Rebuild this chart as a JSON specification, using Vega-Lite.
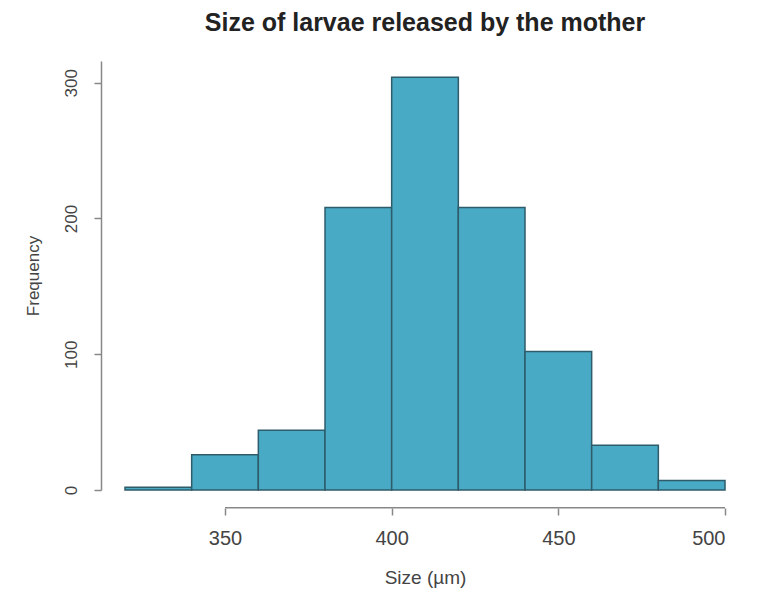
{
  "$schema": "https://vega.github.io/schema/vega-lite/v6.json",
  "width": 600,
  "height": 429,
  "autosize": "none",
  "padding": {"left": 125, "top": 61, "right": 36, "bottom": 101},
  "background": "white",
  "config": {
    "view": {"stroke": null},
    "font": "Liberation Sans"
  },
  "title": {
    "text": "Size of larvae released by the mother",
    "font": "Liberation Sans",
    "fontSize": 25,
    "fontWeight": "bold",
    "color": "#222222",
    "anchor": "middle",
    "offset": 25
  },
  "data": {
    "values": [
      {"start": 320, "end": 340, "count": 2},
      {"start": 340, "end": 360, "count": 26},
      {"start": 360, "end": 380, "count": 44},
      {"start": 380, "end": 400, "count": 208},
      {"start": 400, "end": 420, "count": 304},
      {"start": 420, "end": 440, "count": 208},
      {"start": 440, "end": 460, "count": 102},
      {"start": 460, "end": 480, "count": 33},
      {"start": 480, "end": 500, "count": 7}
    ]
  },
  "layer": [
    {
      "mark": {"type": "rect", "fill": "#48AAC4", "stroke": "#2E5C6B", "strokeWidth": 1.5},
      "encoding": {
        "x": {
          "field": "start", "type": "quantitative",
          "scale": {"domain": [320, 500], "nice": false, "zero": false},
          "axis": {
            "title": "Size (µm)",
            "values": [350, 400, 450, 500],
            "domain": false,
            "offset": 18,
            "tickSize": 7,
            "tickColor": "#888888",
            "tickWidth": 1.5,
            "labelFontSize": 20,
            "labelColor": "#444444",
            "labelPadding": 13,
            "labelFont": "Liberation Sans",
            "titleFont": "Liberation Sans",
            "titleFontSize": 19,
            "titleFontWeight": "normal",
            "titleColor": "#444444",
            "titlePadding": 20,
            "grid": false
          }
        },
        "x2": {"field": "end"},
        "y": {
          "field": "count", "type": "quantitative",
          "scale": {"domain": [0, 316], "nice": false},
          "axis": {
            "title": "Frequency",
            "values": [0, 100, 200, 300],
            "offset": 24,
            "domainColor": "#888888",
            "domainWidth": 1.5,
            "tickSize": 7,
            "tickColor": "#888888",
            "tickWidth": 1.5,
            "labelAngle": -90,
            "labelAlign": "center",
            "labelBaseline": "bottom",
            "labelFontSize": 17,
            "labelColor": "#444444",
            "labelPadding": 14,
            "labelFont": "Liberation Sans",
            "titleFont": "Liberation Sans",
            "titleFontSize": 17,
            "titleFontWeight": "normal",
            "titleColor": "#444444",
            "titlePadding": 20,
            "grid": false
          }
        },
        "y2": {"datum": 0}
      }
    },
    {
      "data": {"values": [{"from": 350, "to": 500, "level": -13}]},
      "mark": {"type": "rule", "color": "#888888", "strokeWidth": 1.5},
      "encoding": {
        "x": {"field": "from", "type": "quantitative"},
        "x2": {"field": "to"},
        "y": {"field": "level", "type": "quantitative"}
      }
    }
  ]
}
